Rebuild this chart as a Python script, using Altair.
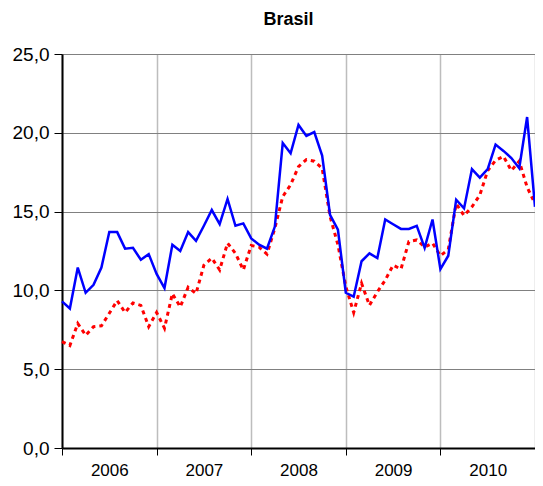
import altair as alt
import pandas as pd

months = list(range(61))  # Jan 2006 .. Jan 2011

serie_azul = [9.3, 8.85, 11.45, 9.85, 10.35, 11.45, 13.7, 13.7, 12.65, 12.7, 11.95, 12.3,
              11.05, 10.15, 12.9, 12.5, 13.7, 13.15, 14.1, 15.1, 14.2, 15.8, 14.1, 14.25,
              13.3, 12.9, 12.65, 14.05, 19.35, 18.7, 20.5, 19.8, 20.05, 18.55, 14.8, 13.85,
              9.85, 9.6, 11.85, 12.35, 12.05, 14.5, 14.2, 13.9, 13.9, 14.1, 12.7, 14.5,
              11.35, 12.2, 15.75, 15.2, 17.7, 17.15, 17.7, 19.25, 18.85, 18.4, 17.75, 21.0,
              15.3]

serie_vermelha = [6.75, 6.5, 7.9, 7.15, 7.7, 7.75, 8.55, 9.35, 8.6, 9.2, 9.05, 7.7,
                  8.6, 7.6, 9.8, 8.95, 10.2, 9.8, 11.6, 12.05, 11.3, 13.0, 12.35, 11.3,
                  12.85, 12.75, 12.3, 13.95, 15.95, 16.7, 17.85, 18.3, 18.2, 17.75, 14.7, 12.9,
                  10.25, 8.6, 10.45, 9.05, 9.9, 10.65, 11.6, 11.35, 13.1, 13.2, 12.75, 13.0,
                  12.2, 12.6, 15.5, 14.75, 15.3, 16.05, 17.6, 18.25, 18.5, 17.6, 18.2, 16.55,
                  15.5]

year_ticks = [0, 12, 24, 36, 48, 60]
y_ticks = [0, 5, 10, 15, 20, 25]

df = pd.DataFrame({"m": months, "azul": serie_azul, "vermelha": serie_vermelha})

FONT = "Liberation Sans"

PLOT_W = 473

x_enc = alt.X(
    "m:Q",
    scale=alt.Scale(domain=[0, 60], nice=False, zero=False),
    axis=alt.Axis(
        values=year_ticks,
        labelExpr="datum.value < 60 ? '' + (2006 + datum.value / 12) : ''",
        labelOffset=PLOT_W / 10,
        labelFlush=False,
        labelOverlap=False,
        labelBound=False,
        labelFont=FONT,
        labelFontSize=17,
        labelColor="#000000",
        labelPadding=7,
        tickSize=7,
        tickColor="#000000",
        tickWidth=1,
        domainColor="#000000",
        domainWidth=2,
        grid=True,
        gridColor="#bdbdbd",
        gridWidth=1.5,
        title=None,
    ),
)

y_axis = alt.Axis(
    values=y_ticks,
    labelExpr="replace(format(datum.value, '.1f'), '.', ',')",
    labelFont=FONT,
    labelFontSize=19,
    labelColor="#000000",
    labelPadding=5,
    tickSize=8,
    tickColor="#000000",
    domainColor="#000000",
    domainWidth=2,
    grid=True,
    gridColor="#808080",
    gridWidth=1.2,
    title=None,
)

base = alt.Chart(df)

azul = base.mark_line(color="#0000ff", strokeWidth=2.5).encode(
    x=x_enc,
    y=alt.Y("azul:Q", scale=alt.Scale(domain=[0, 25], nice=False), axis=y_axis),
)

vermelha = base.mark_line(color="#ff0000", strokeWidth=3, strokeDash=[4, 4]).encode(
    x=x_enc,
    y=alt.Y("vermelha:Q"),
)

chart = (
    alt.layer(vermelha, azul)
    .properties(
        width=PLOT_W,
        height=394,
        title=alt.TitleParams(
            "Brasil",
            font=FONT,
            fontSize=18,
            fontWeight="bold",
            color="#000000",
            anchor="middle",
            frame="group",
            dx=-10,
            offset=16,
        ),
        autosize=alt.AutoSizeParams(type="none"),
        padding={"left": 54, "top": 46, "right": 0, "bottom": 30},
    )
    .configure_view(stroke="#000000", strokeWidth=1.5)
    .configure(background="#ffffff")
)

chart.save("out.html", embed_options={"renderer": "svg", "actions": False})
